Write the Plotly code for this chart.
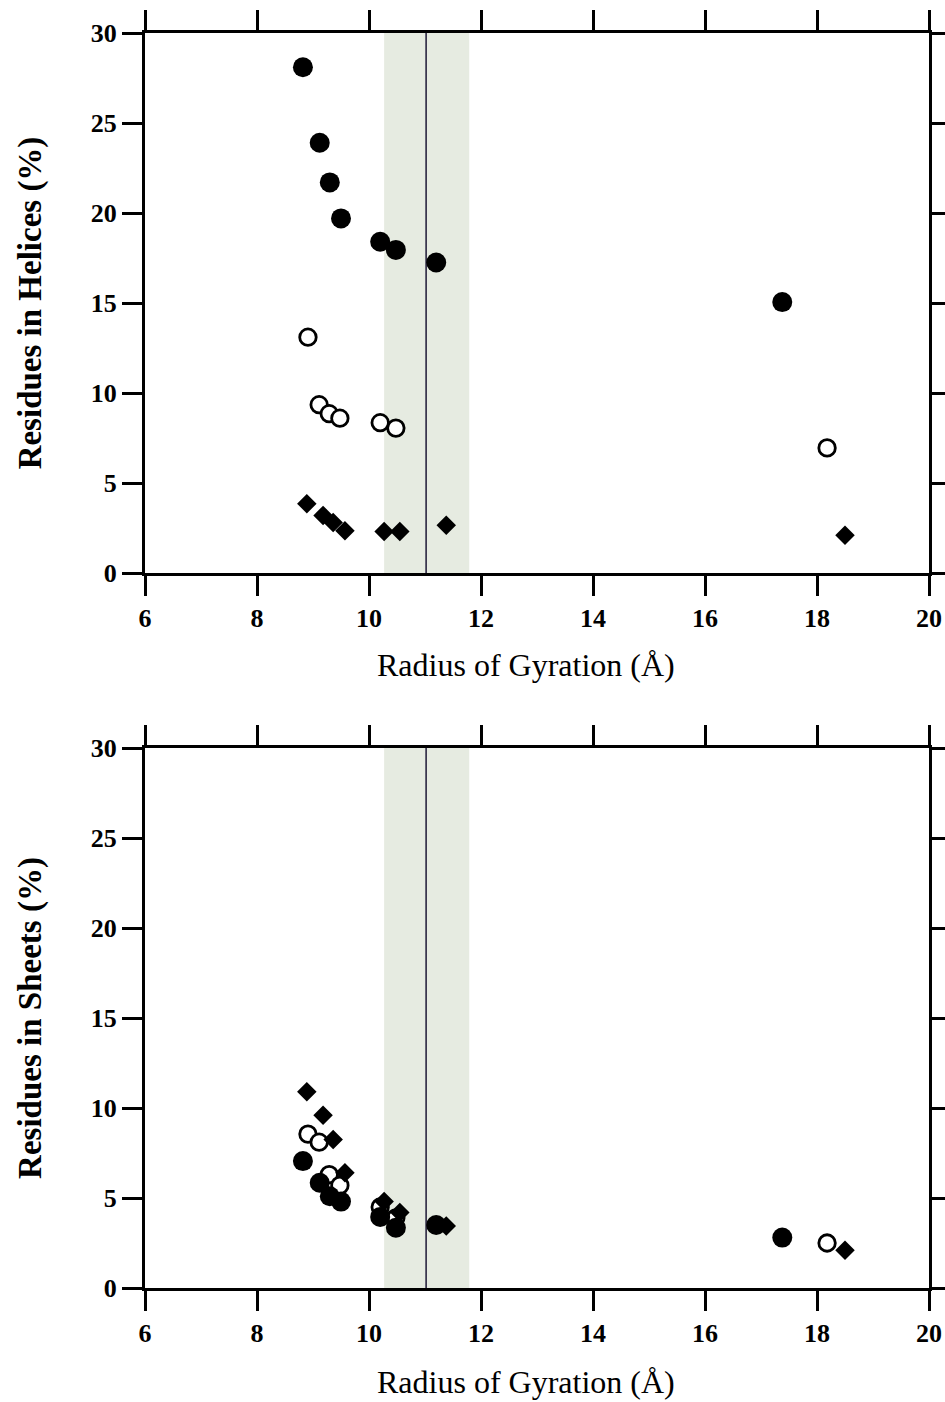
import plotly.graph_objects as go

# Radius of gyration (Å) for each group of structures (shared by both panels)
rg_filled = [8.82, 9.12, 9.30, 9.50, 10.20, 10.48, 11.20, 17.38]
rg_open = [8.91, 9.11, 9.29, 9.48, 10.20, 10.48, 18.18]
rg_diamond = [8.89, 9.18, 9.36, 9.57, 10.27, 10.55, 11.38, 18.50]

# Residues in helices (%)
helix_filled = [28.1, 23.9, 21.7, 19.7, 18.4, 17.95, 17.25, 15.05]
helix_open = [13.1, 9.35, 8.85, 8.6, 8.35, 8.05, 6.95]
helix_diamond = [3.85, 3.2, 2.8, 2.35, 2.3, 2.3, 2.65, 2.1]

# Residues in sheets (%)
sheet_filled = [7.05, 5.85, 5.1, 4.8, 3.95, 3.35, 3.5, 2.8]
sheet_open = [8.55, 8.1, 6.3, 5.7, 4.5, 3.9, 2.5]
sheet_diamond = [10.9, 9.6, 8.25, 6.4, 4.8, 4.2, 3.45, 2.1]

# Reference radius and its band
band_lo, band_hi = 10.27, 11.79
ref_rg = 11.02

x_ticks = [6, 8, 10, 12, 14, 16, 18, 20]
y_ticks = [0, 5, 10, 15, 20, 25, 30]
x_label = "Radius of Gyration (Å)"

W, H = 945, 1402
x_dom = [145 / W, 929 / W]
top_dom = [1 - 573 / H, 1 - 33 / H]
bot_dom = [1 - 1288 / H, 1 - 748 / H]

SERIF = "Liberation Serif"

fig = go.Figure()


def add_panel(fig, xa, ya, diamond, filled, open_):
    # open circles first so the solid symbols sit on top where they overlap
    fig.add_trace(go.Scatter(
        x=rg_open, y=open_, mode="markers", xaxis=xa, yaxis=ya,
        marker=dict(symbol="circle", size=16.5, color="white",
                    line=dict(width=2.8, color="black")),
        showlegend=False))
    fig.add_trace(go.Scatter(
        x=rg_diamond, y=diamond, mode="markers", xaxis=xa, yaxis=ya,
        marker=dict(symbol="diamond", size=15, color="black",
                    line=dict(width=0)),
        showlegend=False))
    fig.add_trace(go.Scatter(
        x=rg_filled, y=filled, mode="markers", xaxis=xa, yaxis=ya,
        marker=dict(symbol="circle", size=20, color="black",
                    line=dict(width=0)),
        showlegend=False))


add_panel(fig, "x", "y", helix_diamond, helix_filled, helix_open)
add_panel(fig, "x2", "y2", sheet_diamond, sheet_filled, sheet_open)

for xr, yr in [("x", "y"), ("x2", "y2")]:
    fig.add_shape(type="rect", xref=xr, yref=f"{yr} domain",
                  x0=band_lo, x1=band_hi, y0=0, y1=1,
                  fillcolor="#e6ebe1", line=dict(width=0), layer="below")
    fig.add_shape(type="line", xref=xr, yref=f"{yr} domain",
                  x0=ref_rg, x1=ref_rg, y0=0, y1=1,
                  line=dict(color="#35304a", width=1.7), layer="below")

common_axis = dict(
    ticks="outside", ticklen=20, tickwidth=3, tickcolor="black",
    showline=True, linewidth=3, linecolor="black", mirror="ticks",
    showgrid=False, zeroline=False, automargin=False,
    tickfont=dict(family=SERIF, size=26, color="black", weight="bold"),
)


def y_title(text):
    return dict(text=text, standoff=40,
                font=dict(family=SERIF, size=33, color="black", weight="bold"))


fig.update_layout(
    width=W, height=H,
    margin=dict(l=0, r=0, t=0, b=0, pad=0, autoexpand=False),
    paper_bgcolor="white", plot_bgcolor="white",
    xaxis=dict(domain=x_dom, range=[6, 20], tickvals=x_ticks, anchor="y",
               **common_axis),
    yaxis=dict(domain=top_dom, range=[0, 30], tickvals=y_ticks, anchor="x",
               title=y_title("Residues in Helices (%)"), **common_axis),
    xaxis2=dict(domain=x_dom, range=[6, 20], tickvals=x_ticks, anchor="y2",
                **common_axis),
    yaxis2=dict(domain=bot_dom, range=[0, 30], tickvals=y_ticks, anchor="x2",
                title=y_title("Residues in Sheets (%)"), **common_axis),
)

# x-axis titles placed under each panel
for y_px in (665, 1382):
    fig.add_annotation(
        text=x_label, xref="paper", yref="paper",
        x=526 / W, y=1 - y_px / H, xanchor="center", yanchor="middle",
        showarrow=False, font=dict(family=SERIF, size=32, color="black"))

# Let the figure fill the page edge to edge
page_css = (
    "document.documentElement.style.margin='0';"
    "document.documentElement.style.overflow='hidden';"
    "document.body.style.margin='0';"
    "document.body.style.overflow='hidden';"
)

fig.write_html("out.html", post_script=page_css)
